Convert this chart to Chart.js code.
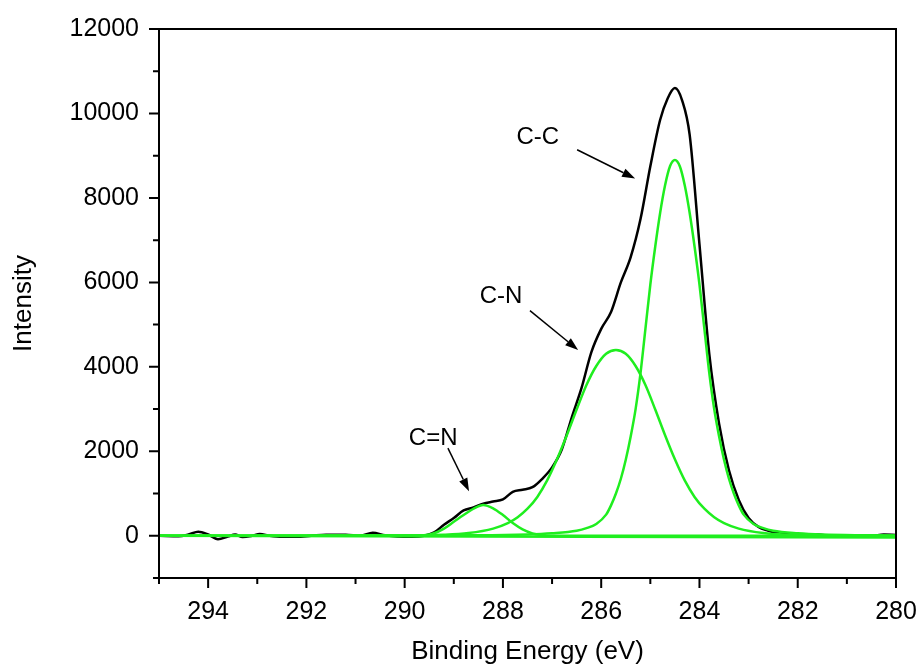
<!DOCTYPE html>
<html lang="en">
<head>
  <meta charset="UTF-8">
  <title>C1s Spectrum</title>
  <script src="https://cdn.jsdelivr.net/npm/chart.js"></script>
  <style>
    body { margin: 0; background: #fff; }
  </style>
</head>
<body>
  <canvas id="myChart" width="921" height="671"></canvas>

  <script>
    // measured envelope (black)
    const envelopeEnergy = [
      295.0, 294.6, 294.4, 294.2, 294.0, 293.8, 293.6, 293.45, 293.3, 293.1,
      292.95, 292.75, 292.5, 292.2, 291.9, 291.6, 291.2, 290.9, 290.65, 290.4,
      290.15, 289.85, 289.6, 289.4, 289.2, 289.0, 288.8, 288.6, 288.4, 288.2,
      288.0, 287.8, 287.6, 287.4, 287.2, 287.0, 286.8, 286.6, 286.4, 286.2,
      286.0, 285.8, 285.6, 285.4, 285.2, 285.0, 284.8, 284.65, 284.5, 284.35,
      284.2, 284.0, 283.8, 283.6, 283.4, 283.2, 283.0, 282.8, 282.6, 282.4,
      282.2, 282.0, 281.8, 281.6, 281.3, 281.0, 280.8, 280.5, 280.25, 280.0
    ];
    const envelopeIntensity = [
      0, -10, 30, 95, 30, -80, -20, 30, -30, 0,
      40, 0, -25, -25, 0, 25, 25, 0, 70, 10,
      -20, -25, 0, 80, 260, 420, 600, 670, 760, 810,
      860, 1040, 1090, 1150, 1350, 1620, 2050, 2800, 3500, 4350,
      4900, 5300, 6000, 6600, 7500, 8750, 9850, 10350, 10600, 10300,
      9500, 6900, 4300, 2650, 1550, 850, 420, 210, 120, 60,
      50, 30, 20, 30, -10, 0, 15, 0, 30, 20
    ];

    // fitted components (green)
    const ccEnergy = [
      295, 288.5, 287.5, 287.0, 286.5, 286.3, 286.1, 285.9, 285.8, 285.7,
      285.6, 285.5, 285.4, 285.3, 285.2, 285.1, 285.0, 284.9, 284.8, 284.7,
      284.6, 284.5, 284.4, 284.3, 284.2, 284.1, 284.0, 283.9, 283.8, 283.7,
      283.6, 283.5, 283.4, 283.3, 283.2, 283.1, 282.9, 282.7, 282.5, 282.0,
      281.5, 280.5, 280.0
    ];
    const ccIntensity = [
      0, 10, 30, 60, 120, 180, 280, 500, 720, 1000,
      1350, 1800, 2350, 3000, 3850, 4900, 5950, 6850, 7650, 8300,
      8750, 8900, 8750, 8300, 7650, 6850, 5950, 4900, 3850, 3000,
      2350, 1800, 1350, 1000, 720, 500, 280, 180, 120, 60,
      30, 10, 0
    ];

    const cnEnergy = [
      295, 290.2, 289.2, 288.7, 288.2, 287.9, 287.7, 287.5, 287.3, 287.1,
      286.9, 286.7, 286.5, 286.3, 286.1, 285.9, 285.7, 285.5, 285.3, 285.1,
      284.9, 284.7, 284.5, 284.3, 284.1, 283.9, 283.7, 283.5, 283.2, 282.7,
      282.2, 281.2, 280.0
    ];
    const cnIntensity = [
      0, 5, 25, 65, 170, 300, 440, 640, 920, 1310,
      1810, 2380, 2990, 3570, 4020, 4310, 4400, 4310, 4020, 3570,
      2990, 2380, 1810, 1310, 920, 640, 440, 300, 170, 65,
      25, 5, 0
    ];

    const cnDoubleEnergy = [
      295, 289.8, 289.6, 289.4, 289.2, 289.0, 288.8, 288.6, 288.4, 288.2,
      288.0, 287.8, 287.6, 287.4, 287.2, 287.0, 280
    ];
    const cnDoubleIntensity = [
      0, 0, 10, 60, 170, 330, 490, 640, 730, 650,
      490, 300, 150, 55, 15, 0, 0
    ];

    const baselineEnergy = [295, 280];
    const baselineIntensity = [0, -40];

    // axis ticks
    const xMajorTicks = [294, 292, 290, 288, 286, 284, 282, 280];
    const xMinorTicks = [295, 293, 291, 289, 287, 285, 283, 281];
    const yMajorTicks = [0, 2000, 4000, 6000, 8000, 10000, 12000];
    const yMinorTicks = [-1000, 1000, 3000, 5000, 7000, 9000, 11000];

    // peak labels with arrows, in data units
    const peakLabels = [
      { text: 'C-C', at: [287.29, 9430], from: [286.49, 9140], to: [285.31, 8460] },
      { text: 'C-N', at: [288.04, 5660], from: [287.45, 5330], to: [286.47, 4400] },
      { text: 'C=N', at: [289.42, 2310], from: [289.12, 2075], to: [288.69, 1055] }
    ];

    const FONT = "'Liberation Sans', Arial, sans-serif";
    const GREEN = '#1fee1f';

    function pairs(xs, ys) {
      return xs.map((x, i) => ({ x: x, y: ys[i] }));
    }

    function lineSet(label, xs, ys, color, order) {
      return {
        label: label,
        data: pairs(xs, ys),
        borderColor: color,
        borderWidth: 2.5,
        pointRadius: 0,
        fill: false,
        cubicInterpolationMode: 'monotone',
        order: order
      };
    }

    const framePlugin = {
      id: 'frame',
      afterDraw(chart) {
        const { ctx, chartArea: a, scales: { x, y } } = chart;
        ctx.save();
        ctx.strokeStyle = '#000';
        ctx.lineWidth = 2;
        ctx.strokeRect(a.left, a.top, a.right - a.left, a.bottom - a.top);

        ctx.beginPath();
        xMajorTicks.forEach(v => {
          const px = x.getPixelForValue(v);
          ctx.moveTo(px, a.bottom); ctx.lineTo(px, a.bottom + 10);
        });
        xMinorTicks.forEach(v => {
          const px = x.getPixelForValue(v);
          ctx.moveTo(px, a.bottom); ctx.lineTo(px, a.bottom + 6);
        });
        yMajorTicks.forEach(v => {
          const py = y.getPixelForValue(v);
          ctx.moveTo(a.left, py); ctx.lineTo(a.left - 10, py);
        });
        yMinorTicks.forEach(v => {
          const py = y.getPixelForValue(v);
          ctx.moveTo(a.left, py); ctx.lineTo(a.left - 6, py);
        });
        ctx.stroke();

        // labels and arrows
        ctx.fillStyle = '#000';
        ctx.font = '24px ' + FONT;
        ctx.textAlign = 'center';
        ctx.textBaseline = 'middle';
        ctx.lineWidth = 1.5;
        peakLabels.forEach(p => {
          ctx.fillText(p.text, x.getPixelForValue(p.at[0]), y.getPixelForValue(p.at[1]));
          const x1 = x.getPixelForValue(p.from[0]), y1 = y.getPixelForValue(p.from[1]);
          const x2 = x.getPixelForValue(p.to[0]), y2 = y.getPixelForValue(p.to[1]);
          const ang = Math.atan2(y2 - y1, x2 - x1);
          const head = 13, half = 4.5;
          const bx = x2 - head * Math.cos(ang), by = y2 - head * Math.sin(ang);
          ctx.beginPath();
          ctx.moveTo(x1, y1); ctx.lineTo(bx, by);
          ctx.stroke();
          ctx.beginPath();
          ctx.moveTo(x2, y2);
          ctx.lineTo(bx + half * Math.sin(ang), by - half * Math.cos(ang));
          ctx.lineTo(bx - half * Math.sin(ang), by + half * Math.cos(ang));
          ctx.closePath();
          ctx.fill();
        });
        ctx.restore();
      }
    };

    const ctx = document.getElementById('myChart').getContext('2d');
    const chartInstance = new Chart(ctx, {
      type: 'line',
      data: {
        datasets: [
          lineSet('Envelope', envelopeEnergy, envelopeIntensity, '#000', 3),
          lineSet('C-C', ccEnergy, ccIntensity, GREEN, 1),
          lineSet('C-N', cnEnergy, cnIntensity, GREEN, 1),
          lineSet('C=N', cnDoubleEnergy, cnDoubleIntensity, GREEN, 1),
          lineSet('Baseline', baselineEnergy, baselineIntensity, GREEN, 1)
        ]
      },
      options: {
        responsive: false,
        animation: false,
        layout: { padding: { top: 29, right: 25, left: 0, bottom: 0 } },
        plugins: {
          legend: { display: false },
          tooltip: { enabled: false }
        },
        scales: {
          x: {
            type: 'linear',
            reverse: true,
            min: 280,
            max: 295,
            afterFit: s => { s.height = 93; s.paddingLeft = 0; s.paddingRight = 0; },
            afterBuildTicks: s => { s.ticks = xMajorTicks.map(v => ({ value: v })); },
            grid: { display: false },
            border: { display: false },
            ticks: {
              padding: 11,
              color: '#000',
              maxRotation: 0,
              font: { family: FONT, size: 25 },
              callback: v => String(v)
            },
            title: {
              display: true,
              text: 'Binding Energy (eV)',
              color: '#000',
              font: { family: FONT, size: 26 },
              padding: { top: 0, bottom: 4 }
            }
          },
          y: {
            type: 'linear',
            min: -1000,
            max: 12000,
            afterFit: s => { s.width = 159; s.paddingTop = 0; s.paddingBottom = 0; },
            afterBuildTicks: s => { s.ticks = yMajorTicks.map(v => ({ value: v })); },
            grid: { display: false },
            border: { display: false },
            ticks: {
              padding: 12,
              color: '#000',
              font: { family: FONT, size: 25 },
              callback: v => String(v)
            },
            title: {
              display: true,
              text: 'Intensity',
              color: '#000',
              font: { family: FONT, size: 26 },
              padding: { top: 8, bottom: 0 }
            }
          }
        }
      },
      plugins: [framePlugin]
    });
  </script>
</body>
</html>
